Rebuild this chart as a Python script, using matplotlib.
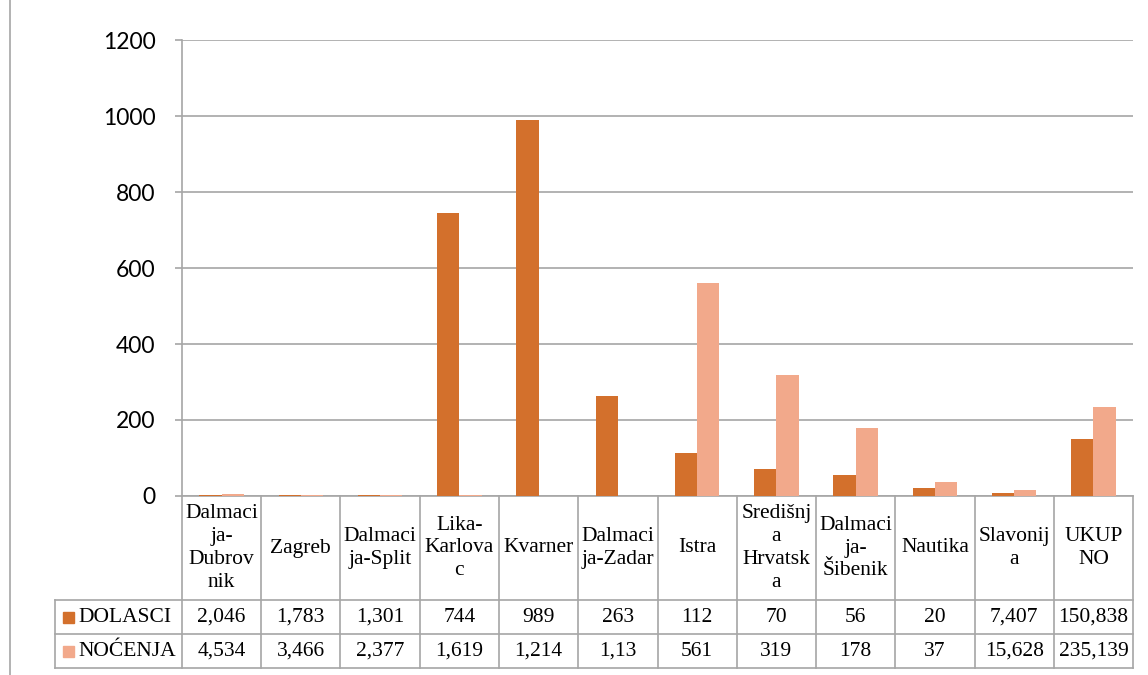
import matplotlib
matplotlib.use('Agg')
import matplotlib.pyplot as plt
import matplotlib.transforms as mtransforms
from matplotlib.lines import Line2D
from matplotlib.patches import Rectangle

# podaci (vrijednosti kako su u tablici, decimalni zarez = tisuće u originalu)
regije = ['Dalmaci\nja-\nDubrov\nnik', 'Zagreb', 'Dalmaci\nja-Split', 'Lika-\nKarlova\nc',
          'Kvarner', 'Dalmaci\nja-Zadar', 'Istra', 'Središnj\na\nHrvatsk\na',
          'Dalmaci\nja-\nŠibenik', 'Nautika', 'Slavonij\na', 'UKUP\nNO']
dolasci = [2.046, 1.783, 1.301, 744, 989, 263, 112, 70, 56, 20, 7.407, 150.838]
nocenja = [4.534, 3.466, 2.377, 1.619, 1.214, 1.13, 561, 319, 178, 37, 15.628, 235.139]
dolasci_tekst = ['2,046', '1,783', '1,301', '744', '989', '263', '112', '70', '56', '20', '7,407', '150,838']
nocenja_tekst = ['4,534', '3,466', '2,377', '1,619', '1,214', '1,13', '561', '319', '178', '37', '15,628', '235,139']
serije = ['DOLASCI', 'NOĆENJA']
y_ticks = [0, 200, 400, 600, 800, 1000, 1200]

TAMNA = '#D3702C'
SVIJETLA = '#F2A98B'
SIVA = '#A6A6A6'
SERIF = 'Liberation Serif'
FS = 15.5

fig = plt.figure(figsize=(11.48, 6.75), dpi=100)
ax = fig.add_axes([0.1585, 0.2652, 0.8285, 0.6755])

x = list(range(len(regije)))
w = 0.28
ax.bar([i - w / 2 for i in x], dolasci, width=w, color=TAMNA, zorder=3)
ax.bar([i + w / 2 for i in x], nocenja, width=w, color=SVIJETLA, zorder=3)

ax.set_xlim(-0.5, len(regije) - 0.5)
ax.set_ylim(0, 1200)
ax.set_yticks(y_ticks)
ax.set_yticklabels([str(t) for t in y_ticks], family='Lato', fontsize=16.5)
ax.set_xticks([])
ax.tick_params(axis='y', length=5, width=1.2, color=SIVA, pad=14)
ax.yaxis.grid(True, color=SIVA, linewidth=1.2)
ax.set_axisbelow(True)
for s in ['top', 'right']:
    ax.spines[s].set_visible(False)
ax.spines['left'].set_color(SIVA)
ax.spines['bottom'].set_color(SIVA)
ax.spines['left'].set_linewidth(1.2)
ax.spines['bottom'].set_linewidth(1.2)

# tablica s podacima ispod grafa
tr = mtransforms.blended_transform_factory(ax.transData, fig.transFigure)
y_top = 1 - 496 / 675
y1 = 1 - 600 / 675
y2 = 1 - 634 / 675
y3 = 1 - 668 / 675
lijevo = 55 / 1148
desno = 0.1585 + 0.8285

for k in range(len(regije) + 1):
    fig.add_artist(Line2D([k - 0.5, k - 0.5], [y_top, y3], transform=tr,
                          color=SIVA, lw=1.2, clip_on=False))
for yy in [y1, y2, y3]:
    fig.add_artist(Line2D([lijevo, desno], [yy, yy], transform=fig.transFigure,
                          color=SIVA, lw=1.2))
fig.add_artist(Line2D([lijevo, lijevo], [y1, y3], transform=fig.transFigure, color=SIVA, lw=1.2))

for i in x:
    fig.text(i, (y_top + y1) / 2, regije[i], transform=tr, ha='center', va='center',
             family=SERIF, fontsize=FS, linespacing=1.27)
    fig.text(i, (y1 + y2) / 2, dolasci_tekst[i], transform=tr, ha='center', va='center',
             family=SERIF, fontsize=FS)
    fig.text(i, (y2 + y3) / 2, nocenja_tekst[i], transform=tr, ha='center', va='center',
             family=SERIF, fontsize=FS)

for naziv, boja, (ya, yb) in zip(serije, [TAMNA, SVIJETLA], [(y1, y2), (y2, y3)]):
    yc = (ya + yb) / 2
    fig.add_artist(Rectangle((63 / 1148, yc - 5.5 / 675), 11 / 1148, 11 / 675,
                             transform=fig.transFigure, color=boja))
    fig.text(78 / 1148, yc, naziv, ha='left', va='center', family=SERIF, fontsize=FS)

# okvir lijevo
fig.add_artist(Line2D([10 / 1148, 10 / 1148], [0, 1], transform=fig.transFigure, color=SIVA, lw=1.2))

fig.savefig('out.png', dpi=100)
